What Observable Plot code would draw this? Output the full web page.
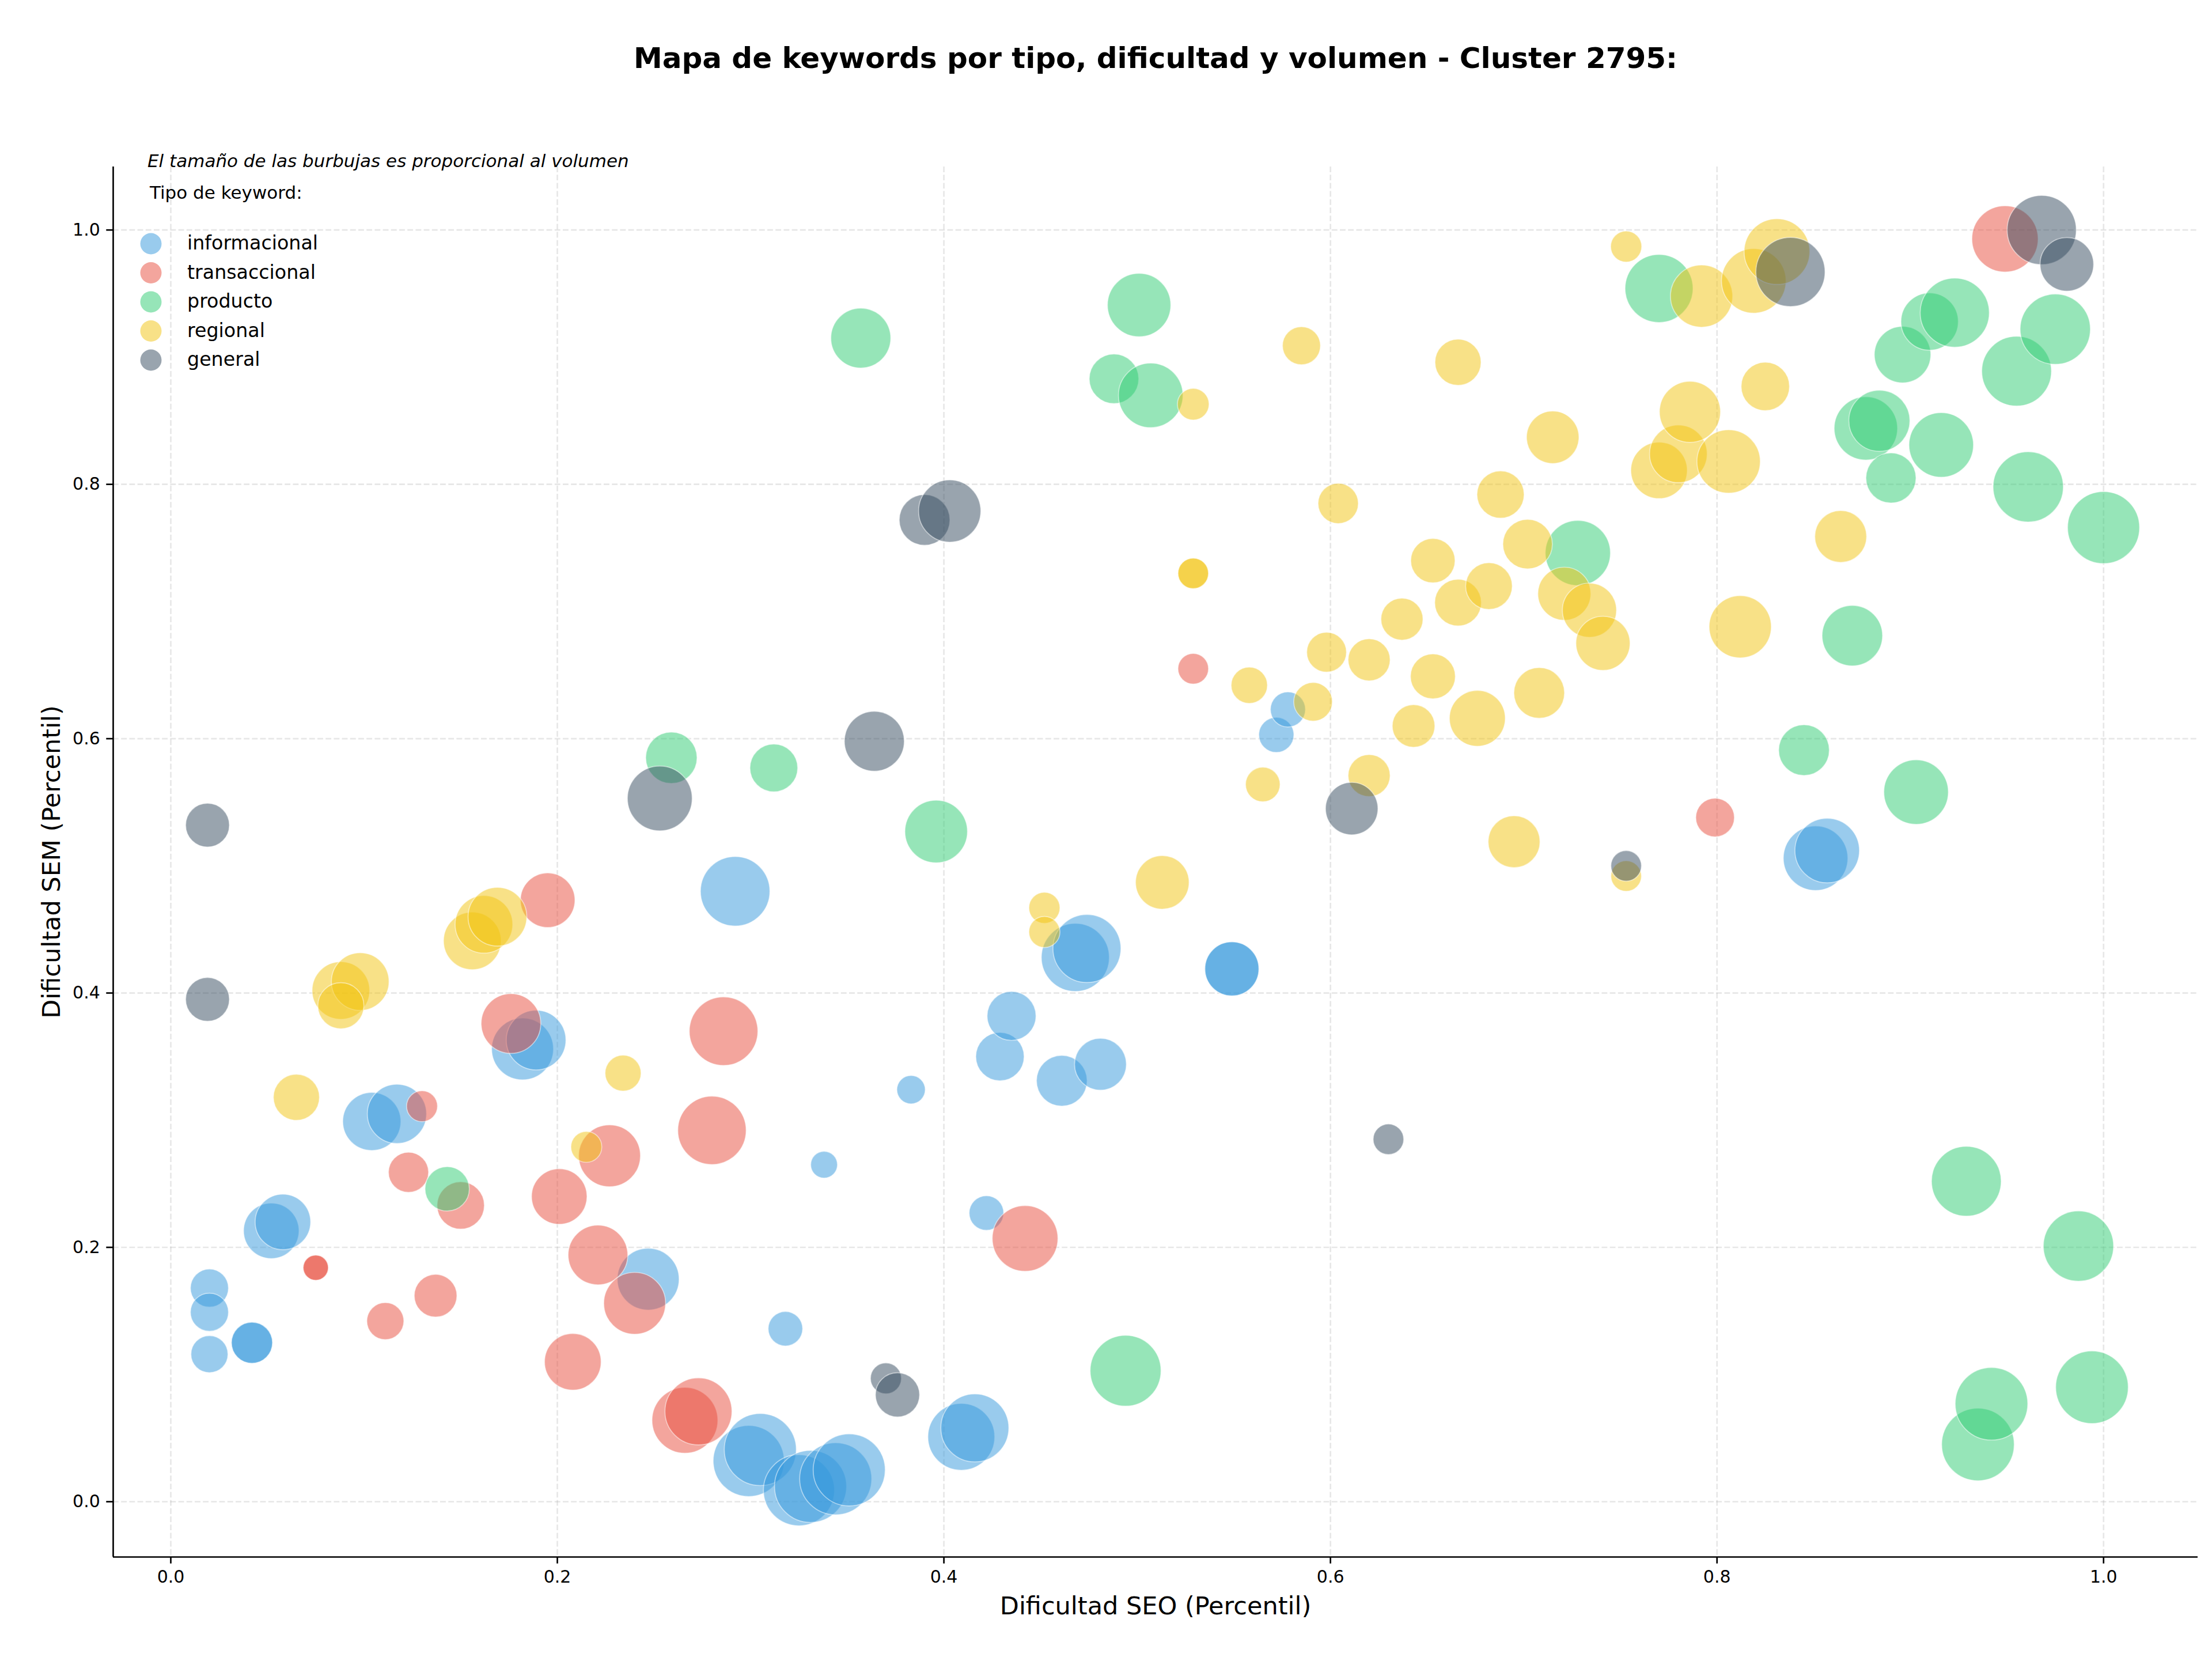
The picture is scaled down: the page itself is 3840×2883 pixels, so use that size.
<!DOCTYPE html>
<html>
<head>
<meta charset="utf-8">
<script src="https://cdn.jsdelivr.net/npm/d3@7"></script>
<script src="https://cdn.jsdelivr.net/npm/@observablehq/plot@0.6"></script>
<style>
  html, body { margin: 0; padding: 0; background: #ffffff; }
  #chart { position: relative; width: 3840px; height: 2883px; font-family: "DejaVu Sans", sans-serif; }
  #chart svg { display: block; }
  #leyenda { position: absolute; left: 0; top: 0; pointer-events: none; }
</style>
</head>
<body>
<div id="chart"></div>
<script>
// ---- Textos ----
const titulo = "Mapa de keywords por tipo, dificultad y volumen - Cluster 2795:";
const nota = "El tamaño de las burbujas es proporcional al volumen";
const tituloLeyenda = "Tipo de keyword:";
const etiquetaX = "Dificultad SEO (Percentil)";
const etiquetaY = "Dificultad SEM (Percentil)";

// ---- Categorías y colores ----
const tipos = ["informacional", "transaccional", "producto", "regional", "general"];
const colores = ["#3498db", "#e74c3c", "#2ecc71", "#f1c40f", "#34495e"];

// ---- Ticks ----
const ticksX = [0, 0.2, 0.4, 0.6, 0.8, 1.0];
const ticksY = [0, 0.2, 0.4, 0.6, 0.8, 1.0];
const dominioX = [-0.0298, 1.0488];
const dominioY = [-0.0435, 1.0497];

// ---- Datos: [dificultad SEO, dificultad SEM, volumen] ----
const informacional = [
  [0.020,0.168,273],[0.020,0.149,273],[0.020,0.116,258],[0.042,0.125,319],[0.042,0.125,319],
  [0.052,0.213,580],[0.058,0.220,580],[0.104,0.299,636],[0.117,0.305,660],
  [0.182,0.356,720],[0.189,0.363,670],[0.247,0.175,720],[0.292,0.480,908],
  [0.318,0.136,224],[0.338,0.265,135],[0.383,0.324,152],
  [0.299,0.032,950],[0.305,0.041,977],[0.325,0.009,950],[0.331,0.012,977],[0.344,0.018,977],[0.351,0.025,977],
  [0.409,0.051,841],[0.416,0.058,870],[0.422,0.227,225],
  [0.429,0.350,440],[0.435,0.382,450],[0.461,0.331,484],[0.481,0.344,506],
  [0.468,0.428,870],[0.474,0.435,870],[0.549,0.419,550],[0.549,0.419,550],
  [0.572,0.603,232],[0.578,0.623,232],[0.851,0.506,784],[0.857,0.512,784]
];
const transaccional = [
  [0.075,0.184,120],[0.075,0.184,120],[0.111,0.142,258],[0.123,0.259,303],[0.130,0.311,180],
  [0.137,0.162,343],[0.150,0.233,422],[0.176,0.376,670],[0.195,0.473,560],
  [0.201,0.240,580],[0.208,0.110,603],[0.221,0.194,670],[0.227,0.272,720],
  [0.240,0.156,720],[0.266,0.064,816],[0.273,0.071,845],[0.280,0.292,880],[0.286,0.370,885],
  [0.442,0.207,812],[0.529,0.655,176],[0.799,0.538,281],[0.949,0.993,826]
];
const producto = [
  [0.143,0.246,370],[0.259,0.585,497],[0.312,0.577,430],[0.357,0.915,676],[0.396,0.527,737],
  [0.488,0.883,462],[0.501,0.941,756],[0.507,0.870,784],[0.494,0.103,945],[0.728,0.746,800],
  [0.770,0.954,870],[0.845,0.591,484],[0.870,0.681,689],[0.877,0.844,756],[0.884,0.850,702],
  [0.890,0.805,473],[0.896,0.902,600],[0.903,0.558,784],[0.910,0.928,619],[0.916,0.831,784],
  [0.923,0.935,900],[0.929,0.252,915],[0.935,0.045,992],[0.942,0.077,992],[0.955,0.889,915],
  [0.961,0.798,930],[0.975,0.922,930],[0.987,0.201,930],[0.994,0.090,992],[1.000,0.766,977]
];
const regional = [
  [0.065,0.318,400],[0.088,0.402,625],[0.098,0.409,625],[0.088,0.390,400],
  [0.156,0.441,625],[0.162,0.454,625],[0.169,0.460,650],[0.215,0.279,180],[0.234,0.337,244],
  [0.452,0.467,182],[0.452,0.448,182],[0.513,0.487,540],[0.529,0.863,189],
  [0.529,0.730,176],[0.529,0.730,176],[0.558,0.642,248],[0.565,0.564,225],[0.585,0.909,272],
  [0.591,0.629,281],[0.598,0.668,298],[0.604,0.785,306],[0.620,0.571,333],[0.620,0.662,333],
  [0.637,0.694,333],[0.643,0.610,342],[0.653,0.740,370],[0.653,0.649,380],[0.666,0.896,400],
  [0.666,0.707,410],[0.676,0.616,588],[0.682,0.720,410],[0.688,0.792,420],[0.695,0.519,506],
  [0.702,0.753,462],[0.708,0.636,484],[0.715,0.837,518],[0.721,0.714,529],[0.734,0.701,552],
  [0.741,0.675,552],[0.753,0.987,182],[0.753,0.492,176],[0.770,0.811,600],[0.780,0.824,625],
  [0.786,0.857,702],[0.792,0.948,729],[0.806,0.818,756],[0.812,0.688,729],[0.819,0.960,784],
  [0.825,0.877,441],[0.831,0.983,812],[0.864,0.759,506]
];
const general = [
  [0.019,0.532,361],[0.019,0.395,361],[0.253,0.553,791],[0.364,0.598,676],
  [0.370,0.097,180],[0.376,0.084,368],[0.390,0.772,484],[0.403,0.779,729],
  [0.611,0.545,518],[0.630,0.285,176],[0.753,0.500,176],[0.838,0.967,900],
  [0.968,1.000,900],[0.981,0.973,540]
];

const series = {informacional, transaccional, producto, regional, general};
const filas = tipos.flatMap(t => series[t].map(([seo, sem, vol]) => ({tipo: t, seo, sem, vol})));

const lw = 2.67; // 0.8pt at 240 dpi
const gridOpts = {stroke: "#b0b0b0", strokeOpacity: 0.3, strokeWidth: lw, strokeDasharray: "9.9,4.3"};

const grafico = Plot.plot({
  width: 3840,
  height: 2883,
  marginLeft: 196,
  marginRight: 25,
  marginTop: 289,
  marginBottom: 181,
  style: {fontFamily: "DejaVu Sans", fontSize: "30px", background: "white", color: "black"},
  x: {domain: dominioX, label: null},
  y: {domain: dominioY, label: null},
  r: {type: "sqrt", domain: [0, 1000], range: [0, 63.25]},
  color: {domain: tipos, range: colores},
  marks: [
    Plot.gridX(ticksX, gridOpts),
    Plot.gridY(ticksY, gridOpts),
    Plot.dot(filas, {
      x: "seo", y: "sem", r: "vol", fill: "tipo", fillOpacity: 0.5,
      stroke: "white", strokeOpacity: 0.5, strokeWidth: 1.7, sort: null
    }),
    Plot.ruleX([dominioX[0]], {stroke: "black", strokeWidth: lw}),
    Plot.ruleY([dominioY[0]], {stroke: "black", strokeWidth: lw}),
    Plot.axisX(ticksX, {tickSize: 11.7, tickPadding: 11, tickFormat: d => d.toFixed(1), fontSize: 30, strokeWidth: lw, label: null}),
    Plot.axisY(ticksY, {tickSize: 11.7, tickPadding: 11, tickFormat: d => d.toFixed(1), fontSize: 30, strokeWidth: lw, label: null}),
    Plot.text([etiquetaX], {text: d => d, frameAnchor: "bottom", lineAnchor: "middle", textAnchor: "middle", dy: 86, fontSize: 43}),
    Plot.text([etiquetaY], {text: d => d, frameAnchor: "left", lineAnchor: "middle", textAnchor: "middle", dx: -106, rotate: -90, fontSize: 43}),
    Plot.text([titulo], {text: d => d, frameAnchor: "top", lineAnchor: "middle", textAnchor: "middle", dy: -188, fontSize: 50, fontWeight: "bold"})
  ]
});
document.getElementById("chart").appendChild(grafico);

// ---- Leyenda (dentro del área del gráfico, arriba a la izquierda) ----
const ley = d3.select("#chart").append("svg")
  .attr("id", "leyenda").attr("width", 3840).attr("height", 2883)
  .style("font-family", "DejaVu Sans");
ley.append("text").attr("x", 256).attr("y", 290).attr("font-size", 31)
  .attr("font-style", "italic").attr("fill", "black").text(nota);
ley.append("text").attr("x", 260).attr("y", 345).attr("font-size", 31)
  .attr("fill", "black").text(tituloLeyenda);
const items = ley.selectAll("g.item").data(tipos).join("g").attr("class", "item")
  .attr("transform", (d, i) => `translate(0,${423 + 50.5 * i})`);
items.append("circle").attr("cx", 262).attr("cy", 0).attr("r", 18.5)
  .attr("fill", (d, i) => colores[i]).attr("fill-opacity", 0.5);
items.append("text").attr("x", 325).attr("y", 10).attr("font-size", 33.3)
  .attr("fill", "black").text(d => d);
</script>
</body>
</html>
